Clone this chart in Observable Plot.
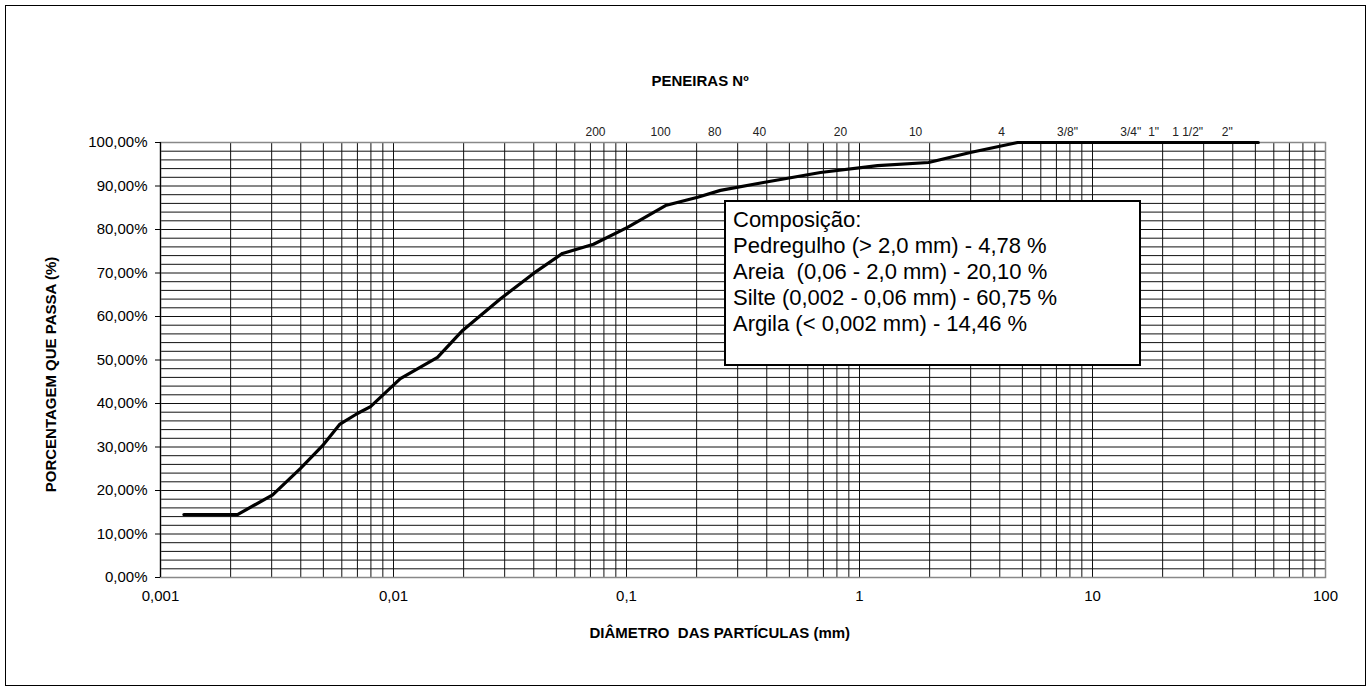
<!DOCTYPE html>
<html>
<head>
<meta charset="utf-8">
<script src="https://cdn.jsdelivr.net/npm/d3@7"></script>
<script src="https://cdn.jsdelivr.net/npm/@observablehq/plot@0.6"></script>
<style>
  html, body { margin: 0; padding: 0; background: #fff; }
  #wrap { position: relative; width: 1371px; height: 690px; overflow: hidden; font-family: 'Liberation Sans', Arial, sans-serif; color: #000; }
  #wrap svg { position: absolute; left: 0; top: 0; }
  .border { position: absolute; left: 5px; top: 5px; width: 1359px; height: 679px; border: 1px solid #000; pointer-events: none; }
  .ttl { position: absolute; font-weight: bold; font-size: 15px; white-space: pre; }
  #legend { position: absolute; left: 724px; top: 200px; width: 406px; height: 157px; border: 2px solid #000; background: #fff; font-size: 22px; line-height: 26px; padding: 5px 0 0 7px; box-sizing: content-box; white-space: pre; }
</style>
</head>
<body>
<div id="wrap">
  <div class="border"></div>
</div>
<script>
// Curve: particle diameter (mm) and percent passing
const diameters = [0.00126, 0.00214, 0.00303, 0.00399, 0.00496, 0.00587, 0.0070, 0.00797, 0.0107, 0.01545, 0.0198, 0.0288, 0.0399, 0.0531, 0.0722, 0.101, 0.147, 0.202, 0.253, 0.387, 0.680, 1.195, 1.98, 2.99, 4.77, 51.5];
const passing   = [14.46, 14.46, 19.0, 25.1, 30.3, 35.2, 37.7, 39.3, 45.7, 50.6, 56.8, 64.1, 69.9, 74.5, 76.6, 80.5, 85.5, 87.4, 89.0, 90.8, 93.1, 94.7, 95.4, 97.7, 100, 100];

// Sieve labels along the top (as placed in the picture)
const sieveLabels = ["200", "100", "80", "40", "20", "10", "4", "3/8\"", "3/4\"", "1\"", "1 1/2\"", "2\""];
const sievePos    = [0.0736, 0.140, 0.239, 0.372, 0.828, 1.74, 4.07, 7.81, 14.6, 18.3, 25.6, 37.9];

// Axis ticks
const xTicks = [0.001, 0.01, 0.1, 1, 10, 100];
const yTicks = [0, 10, 20, 30, 40, 50, 60, 70, 80, 90, 100];

// Legend text
const legendLines = [
  "Composição:",
  "Pedregulho (> 2,0 mm) - 4,78 %",
  "Areia  (0,06 - 2,0 mm) - 20,10 %",
  "Silte (0,002 - 0,06 mm) - 60,75 %",
  "Argila (< 0,002 mm) - 14,46 %"
];

const curve = diameters.map((d, i) => ({d, p: passing[i]}));
const sieves = sievePos.map((d, i) => ({d, label: sieveLabels[i]}));

// grid positions: log minor lines and every 2 %
const vGrid = [];
for (let e = -3; e <= 1; e++) for (let m = 1; m <= 9; m++) vGrid.push(m * Math.pow(10, e));
vGrid.push(100);
const hGrid = d3.range(0, 100.001, 2);

const fmtX = d => String(d).replace(".", ",");
const fmtY = d => d.toFixed(2).replace(".", ",") + "%";

const chart = Plot.plot({
  width: 1371,
  height: 690,
  marginLeft: 160,
  marginRight: 46,
  marginTop: 142,
  marginBottom: 113,
  style: {fontFamily: "'Liberation Sans', Arial, sans-serif", fontSize: "15px", color: "#000", background: "transparent", overflow: "visible"},
  x: {type: "log", domain: [0.001, 100]},
  y: {domain: [0, 100]},
  marks: [
    Plot.ruleX(vGrid, {stroke: "#111", strokeWidth: 1}),
    Plot.ruleY(hGrid, {stroke: "#111", strokeWidth: 1}),
    Plot.frame({stroke: "#888", strokeWidth: 1.5}),
    Plot.line(curve, {x: "d", y: "p", stroke: "#000", strokeWidth: 3.2, strokeLinejoin: "round"}),
    Plot.text(sieves, {x: "d", text: "label", frameAnchor: "top", dy: -15, fontSize: 12, fill: "#222"}),
    Plot.axisX({ticks: xTicks, tickFormat: fmtX, tickSize: 0, tickPadding: 13, label: null}),
    Plot.axisY({ticks: yTicks, tickFormat: fmtY, tickSize: 5, tickPadding: 8, label: null}),
    Plot.ruleX([0.001], {stroke: "#000", strokeWidth: 1.2})
  ]
});

const wrap = document.getElementById("wrap");
wrap.insertBefore(chart, wrap.firstChild);

function addText(txt, cx, cy, rotate) {
  const el = document.createElement("div");
  el.className = "ttl";
  el.textContent = txt;
  wrap.appendChild(el);
  const w = el.offsetWidth, h = el.offsetHeight;
  el.style.left = (cx - w / 2) + "px";
  el.style.top = (cy - h / 2) + "px";
  if (rotate) el.style.transform = "rotate(-90deg)";
}
addText("PENEIRAS Nº", 700, 80);
addText("PORCENTAGEM QUE PASSA (%)", 51, 374, true);
addText("DIÂMETRO  DAS PARTÍCULAS (mm)", 720, 632);

const lg = document.createElement("div");
lg.id = "legend";
lg.textContent = legendLines.join("\n");
wrap.appendChild(lg);
</script>
</body>
</html>
